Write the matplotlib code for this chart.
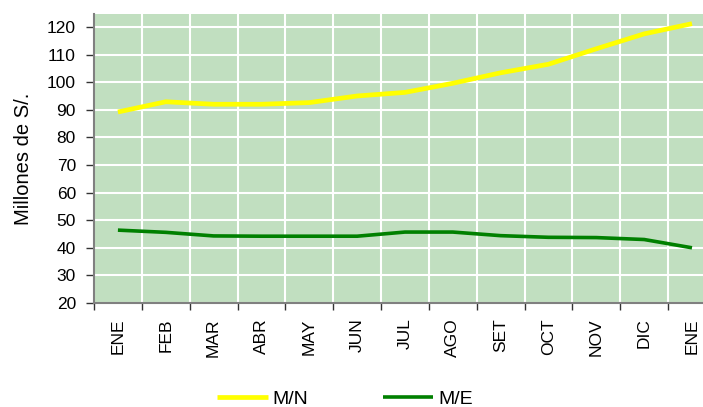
import matplotlib
matplotlib.use("Agg")
import matplotlib.pyplot as plt
import numpy as np

months = ["ENE", "FEB", "MAR", "ABR", "MAY", "JUN", "JUL", "AGO", "SET", "OCT", "NOV", "DIC", "ENE"]
mn = [89.2, 92.9, 92.0, 92.0, 92.6, 95.0, 96.3, 99.6, 103.4, 106.5, 112.1, 117.5, 121.2]
me = [46.4, 45.6, 44.3, 44.2, 44.2, 44.2, 45.7, 45.7, 44.4, 43.8, 43.7, 43.0, 40.0]
yticks = list(range(20, 121, 10))

plt.rcParams['font.family'] = ['Liberation Sans', 'DejaVu Sans']

fig = plt.figure(figsize=(7.03, 4.07), dpi=100)
W, H = 703, 407
ax = fig.add_axes([94 / W, 1 - 303 / H, (703 - 94) / W, (303 - 14) / H])
ax.set_facecolor("#c1dfc0")

x = np.arange(len(months))
ax.plot(x, mn, color="#ffff00", lw=3.4, solid_capstyle="butt", label="M/N", zorder=3)
ax.plot(x, me, color="#008000", lw=2.6, solid_capstyle="butt", label="M/E", zorder=3)

ax.set_xlim(-0.5, 12.23)
ax.set_ylim(20, 124.7)
ax.set_yticks(yticks)
ax.set_yticklabels([str(v) for v in yticks], fontsize=12.5)

ax.set_xticks(x)
ax.set_xticklabels(months, rotation=90, fontsize=12.5, va="top")
ax.set_xticks(np.arange(-0.5, 12.5, 1), minor=True)
ax.tick_params(axis="x", which="major", length=0, pad=11)
ax.tick_params(axis="x", which="minor", length=5, color="#333333", width=1)
ax.tick_params(axis="y", length=6, color="#333333", width=1, pad=7)

ax.grid(True, which="minor", axis="x", color="white", lw=1.5)
ax.grid(True, which="major", axis="y", color="white", lw=1.5)
ax.set_axisbelow(True)

for s in ["top", "right"]:
    ax.spines[s].set_visible(False)
for s in ["left", "bottom"]:
    ax.spines[s].set_color("#808080")
    ax.spines[s].set_linewidth(1.5)

ax.set_ylabel("Millones de S/.", fontsize=14.5, labelpad=10)

fig.legend(loc="center", bbox_to_anchor=(345 / W, 1 - 399 / H), ncol=2, frameon=False,
           fontsize=14, handlelength=2.6, columnspacing=3.8, handletextpad=0.25)

fig.savefig("out.png", dpi=100)
